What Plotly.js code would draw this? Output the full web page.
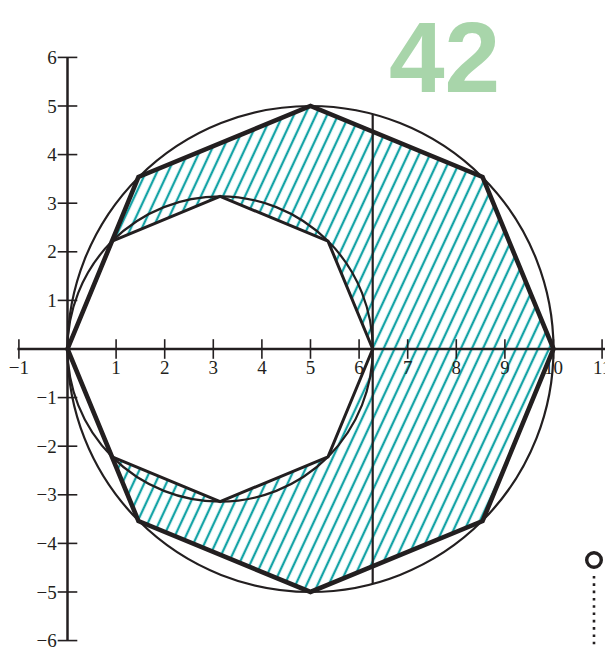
<!DOCTYPE html>
<html>
<head>
<meta charset="utf-8">
<script src="https://cdn.plot.ly/plotly-3.0.1.min.js"></script>
<style>html,body{margin:0;padding:0;background:#fff;}#chart{width:605px;height:647px;}</style>
</head>
<body>
<div id="chart"></div>
<script>
// ---- data ----
const xTickVals = [-1, 1, 2, 3, 4, 5, 6, 7, 8, 9, 10, 11];
const xTickText = ['\u22121', '1', '2', '3', '4', '5', '6', '7', '8', '9', '10', '11'];
const yTickVals = [-6, -5, -4, -3, -2, -1, 1, 2, 3, 4, 5, 6];
const yTickText = ['\u22126', '\u22125', '\u22124', '\u22123', '\u22122', '\u22121', '1', '2', '3', '4', '5', '6'];

// outer octagon (inscribed in circle centre (5,0), r = 5)
const bigOctX = [10, 8.54, 5, 1.46, 0, 1.46, 5, 8.54, 10];
const bigOctY = [0, 3.54, 5, 3.54, 0, -3.54, -5, -3.54, 0];
// inner octagon (inscribed in circle centre (3.14,0), r = 3.14)
const smallOctX = [6.28, 5.36, 3.14, 0.92, 0, 0.92, 3.14, 5.36, 6.28];
const smallOctY = [0, 2.22, 3.14, 2.22, 0, -2.22, -3.14, -2.22, 0];

const bigCircle = {x0: 0, x1: 10, y0: -5, y1: 5};
const smallCircle = {x0: 0, x1: 6.28, y0: -3.14, y1: 3.14};
const vLineX = [6.28, 6.28];
const vLineY = [-4.83, 4.83];

const xAxisX = [-1.03, 11.1];
const yAxisY = [-6, 6];

const INK = '#231f20';
const TEAL = '#14a3a6';

// ring fill: outer CCW, inner reversed (CW) -> hole
const innerRevX = smallOctX.slice().reverse();
const innerRevY = smallOctY.slice().reverse();
const ringX = bigOctX.concat([null], innerRevX);
const ringY = bigOctY.concat([null], innerRevY);

const xRange = [-1.3889, 11.060];
const yRange = [-6.132, 7.181];
const xAxisPos = (0 - yRange[0]) / (yRange[1] - yRange[0]);
const yAxisPos = (0 - xRange[0]) / (xRange[1] - xRange[0]);

const traces = [
  {x: ringX, y: ringY, mode: 'lines', fill: 'toself', line: {width: 0, color: 'rgba(0,0,0,0)'},
   fillcolor: 'rgba(0,0,0,0)',
   fillpattern: {shape: '|', size: 9, solidity: 0.24, fgcolor: TEAL, bgcolor: 'rgba(0,0,0,0)', fgopacity: 1},
   hoverinfo: 'skip', showlegend: false},
  {x: xAxisX, y: [0, 0], mode: 'lines', line: {color: INK, width: 2.5}, showlegend: false, hoverinfo: 'skip'},
  {x: [0, 0], y: yAxisY, mode: 'lines', line: {color: INK, width: 2.5}, showlegend: false, hoverinfo: 'skip'},
  {x: xTickVals, y: xTickVals.map(() => 0), mode: 'markers',
   marker: {symbol: 'line-ns', size: 14, line: {color: INK, width: 1.6}}, showlegend: false, hoverinfo: 'skip'},
  {x: yTickVals.map(() => 0), y: yTickVals, mode: 'markers',
   marker: {symbol: 'line-ew', size: 14, line: {color: INK, width: 1.6}}, showlegend: false, hoverinfo: 'skip'},
  {x: vLineX, y: vLineY, mode: 'lines', line: {color: INK, width: 2.2}, showlegend: false, hoverinfo: 'skip'},
  {x: smallOctX, y: smallOctY, mode: 'lines', line: {color: INK, width: 3}, showlegend: false, hoverinfo: 'skip'},
  {x: bigOctX, y: bigOctY, mode: 'lines', line: {color: INK, width: 4.6}, showlegend: false, hoverinfo: 'skip'}
];

const layout = {
  width: 605, height: 647,
  margin: {l: 0, r: 0, t: 0, b: 0},
  paper_bgcolor: '#fff', plot_bgcolor: 'rgba(0,0,0,0)',
  showlegend: false,
  xaxis: {range: xRange, anchor: 'free', position: xAxisPos, showgrid: false, zeroline: false, showline: false,
          tickmode: 'array', tickvals: xTickVals, ticktext: xTickText, ticks: 'outside', ticklen: 1,
          ticklabeloverflow: 'allow',
          tickcolor: 'rgba(0,0,0,0)', tickfont: {family: 'Liberation Serif', size: 19, color: INK}, fixedrange: true},
  yaxis: {range: yRange, anchor: 'free', position: yAxisPos, showgrid: false, zeroline: false, showline: false,
          tickmode: 'array', tickvals: yTickVals, ticktext: yTickText, ticks: 'outside', ticklen: 7,
          ticklabeloverflow: 'allow',
          tickcolor: 'rgba(0,0,0,0)', tickfont: {family: 'Liberation Serif', size: 19, color: INK}, fixedrange: true},
  shapes: [
    {type: 'circle', xref: 'x', yref: 'y', x0: bigCircle.x0, x1: bigCircle.x1, y0: bigCircle.y0, y1: bigCircle.y1,
     line: {color: INK, width: 2.2}, layer: 'above'},
    {type: 'circle', xref: 'x', yref: 'y', x0: smallCircle.x0, x1: smallCircle.x1, y0: smallCircle.y0, y1: smallCircle.y1,
     line: {color: INK, width: 2.2}, layer: 'above'},
    {type: 'line', xref: 'paper', yref: 'paper', x0: 594/605, x1: 594/605, y0: 1 - 576/647, y1: 0,
     line: {color: INK, width: 2.6, dash: '2.6px,4.7px'}},
    {type: 'circle', xref: 'paper', yref: 'paper', xsizemode: 'pixel', ysizemode: 'pixel',
     xanchor: 594/605, yanchor: 1 - 560/647, x0: -7.3, x1: 7.3, y0: -7.3, y1: 7.3,
     line: {color: INK, width: 3.4}, fillcolor: 'rgba(0,0,0,0)'}
  ],
  annotations: [
    {xref: 'paper', yref: 'paper', x: 444/605, y: 1, xanchor: 'center', yanchor: 'top', borderpad: 0,
     text: '<b>42</b>', showarrow: false, font: {family: 'Liberation Sans', size: 100, color: '#a8d5aa'}}
  ]
};

Plotly.newPlot('chart', traces, layout, {staticPlot: true}).then(function () {
  const NS = 'http://www.w3.org/2000/svg';
  document.querySelectorAll('#chart pattern').forEach(function (p) {
    p.setAttribute('width', 10);
    p.setAttribute('height', 10);
    p.setAttribute('patternUnits', 'userSpaceOnUse');
    p.setAttribute('patternTransform', 'rotate(25)');
    while (p.firstChild) p.removeChild(p.firstChild);
    const path = document.createElementNS(NS, 'path');
    path.setAttribute('d', 'M5,-2V12');
    path.setAttribute('stroke', TEAL);
    path.setAttribute('stroke-width', '2.3');
    path.setAttribute('fill', 'none');
    p.appendChild(path);
  });
});
</script>
</body>
</html>
